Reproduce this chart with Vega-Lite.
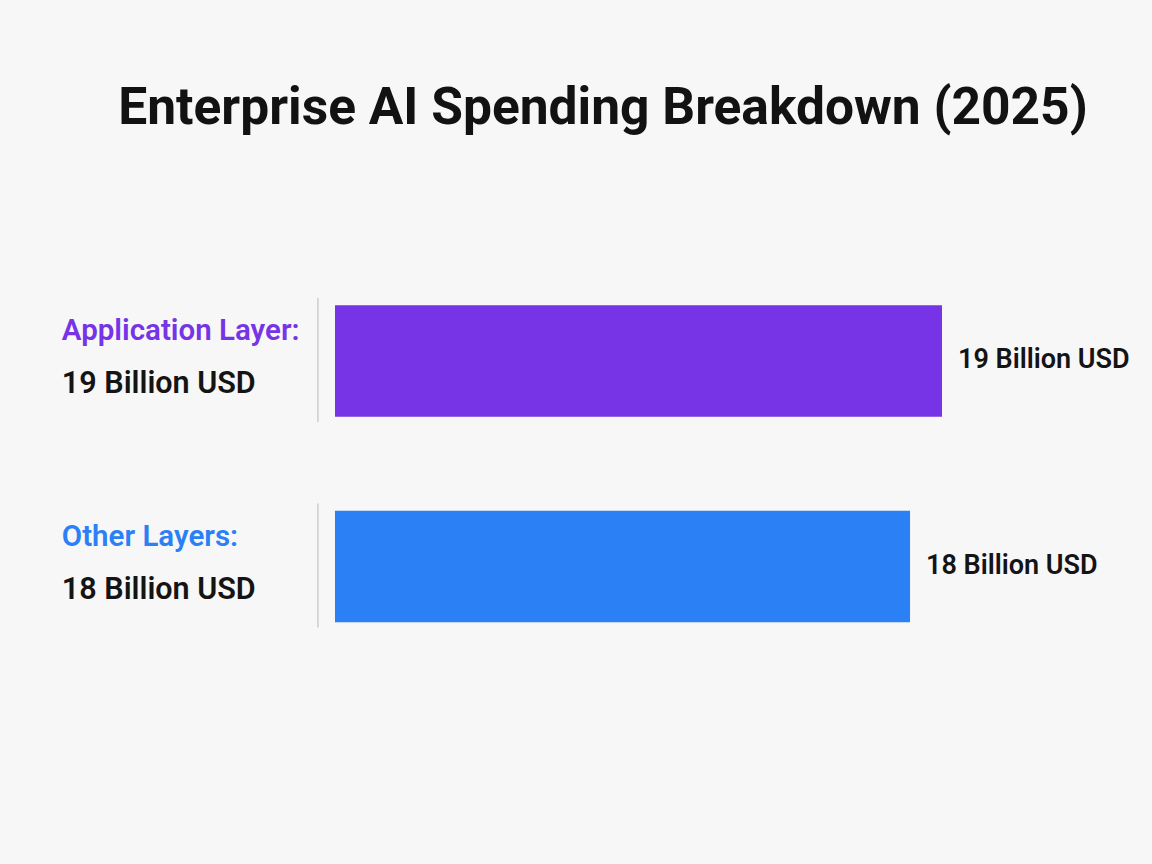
{
  "$schema": "https://vega.github.io/schema/vega-lite/v6.json",
  "width": 1152,
  "height": 864,
  "autosize": {"type": "fit", "contains": "padding"},
  "padding": {"top": 82, "left": 0, "right": 0, "bottom": 0},
  "background": "#f7f7f8",
  "title": {
    "text": "Enterprise AI Spending Breakdown (2025)",
    "font": "Roboto",
    "fontSize": 51.5,
    "fontWeight": "bold",
    "color": "#121212",
    "anchor": "middle",
    "dx": 27,
    "offset": 10
  },
  "config": {"view": {"stroke": null}},
  "data": {
    "values": [
      {"layer": "Application Layer", "name": "Application Layer:", "value": 19, "text": "19 Billion USD"},
      {"layer": "Other Layers", "name": "Other Layers:", "value": 18, "text": "18 Billion USD"}
    ]
  },
  "encoding": {
    "y": {
      "field": "layer",
      "type": "nominal",
      "axis": null,
      "scale": {"domain": ["Application Layer", "Other Layers"], "range": [154, 483.5], "paddingInner": 0.397, "paddingOuter": 0}
    }
  },
  "layer": [
    {
      "mark": {"type": "bar", "color": "#cfcfd2"},
      "encoding": {
        "x": {"datum": -0.56, "type": "quantitative", "scale": {"domain": [-10.486, 25.574], "nice": false, "zero": false}, "axis": null},
        "x2": {"datum": -0.51}
      }
    },
    {
      "mark": {"type": "bar", "height": {"band": 0.9}, "yOffset": 1},
      "encoding": {
        "x": {"field": "value", "type": "quantitative"},
        "color": {"field": "layer", "type": "nominal", "legend": null, "scale": {"domain": ["Application Layer", "Other Layers"], "range": ["#7634e6", "#2b80f6"]}}
      }
    },
    {
      "mark": {"type": "text", "align": "left", "baseline": "middle", "font": "Roboto", "fontSize": 29.5, "fontWeight": 600, "dy": -29},
      "encoding": {
        "x": {"datum": -8.55, "type": "quantitative"},
        "text": {"field": "name"},
        "color": {"field": "layer", "type": "nominal", "legend": null, "scale": {"domain": ["Application Layer", "Other Layers"], "range": ["#7a36e2", "#2a6fe9"]}}
      }
    },
    {
      "mark": {"type": "text", "align": "left", "baseline": "middle", "font": "Roboto", "fontSize": 30.5, "fontWeight": 600, "dy": 24, "color": "#141414"},
      "encoding": {
        "x": {"datum": -8.55, "type": "quantitative"},
        "text": {"field": "text"}
      }
    },
    {
      "mark": {"type": "text", "align": "left", "baseline": "middle", "font": "Roboto", "fontSize": 27, "fontWeight": 600, "dx": 16, "color": "#141414"},
      "encoding": {
        "x": {"field": "value", "type": "quantitative"},
        "text": {"field": "text"}
      }
    }
  ]
}
